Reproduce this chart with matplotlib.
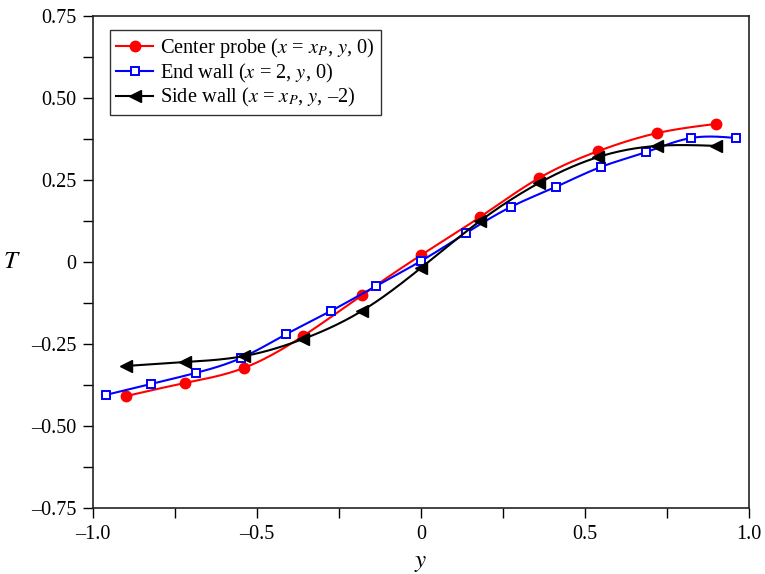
import numpy as np
import matplotlib
matplotlib.use("Agg")
import matplotlib.pyplot as plt
from matplotlib.ticker import FuncFormatter, MultipleLocator

plt.rcParams['font.family'] = ['Liberation Serif', 'DejaVu Serif']
plt.rcParams['mathtext.fontset'] = 'stix'

# Center probe (x = x_P, y, 0)
y_center = [-0.90, -0.72, -0.54, -0.36, -0.18, 0.0, 0.18, 0.36, 0.54, 0.72, 0.90]
T_center = [-0.409, -0.369, -0.323, -0.226, -0.101, 0.021, 0.137, 0.256, 0.338, 0.393, 0.421]

# End wall (x = 2, y, 0)
y_end = [-0.96, -0.823, -0.686, -0.549, -0.411, -0.274, -0.137, 0.0,
         0.137, 0.274, 0.411, 0.549, 0.686, 0.823, 0.96]
T_end = [-0.405, -0.372, -0.338, -0.293, -0.220, -0.149, -0.073, 0.003,
         0.088, 0.168, 0.229, 0.290, 0.335, 0.378, 0.378]

# Side wall (x = x_P, y, -2)
y_side = [-0.90, -0.72, -0.54, -0.36, -0.18, 0.0, 0.18, 0.36, 0.54, 0.72, 0.90]
T_side = [-0.317, -0.305, -0.287, -0.235, -0.149, -0.018, 0.125, 0.241, 0.320, 0.354, 0.354]


def spline(x, y, n=300):
    # natural cubic spline, just for smooth curves through the points
    x = np.asarray(x, float)
    y = np.asarray(y, float)
    m = len(x)
    h = np.diff(x)
    A = np.zeros((m, m))
    b = np.zeros(m)
    A[0, 0] = A[-1, -1] = 1
    for i in range(1, m - 1):
        A[i, i - 1] = h[i - 1]
        A[i, i] = 2 * (h[i - 1] + h[i])
        A[i, i + 1] = h[i]
        b[i] = 3 * ((y[i + 1] - y[i]) / h[i] - (y[i] - y[i - 1]) / h[i - 1])
    c = np.linalg.solve(A, b)
    xs = np.linspace(x[0], x[-1], n)
    idx = np.clip(np.searchsorted(x, xs) - 1, 0, m - 2)
    dx = xs - x[idx]
    bb = (y[idx + 1] - y[idx]) / h[idx] - h[idx] * (2 * c[idx] + c[idx + 1]) / 3
    d = (c[idx + 1] - c[idx]) / (3 * h[idx])
    return xs, y[idx] + bb * dx + c[idx] * dx**2 + d * dx**3


fig = plt.figure(figsize=(7.65, 5.74), dpi=100)
ax = fig.add_axes([93 / 765, 1 - 508 / 574, 656 / 765, 492 / 574])

series = [
    (y_center, T_center, 'red', dict(marker='o', ms=7.5, mfc='red', mec='red'),
     r'Center probe ($x$ = $x_P$, $y$, 0)'),
    (y_end, T_end, 'blue', dict(marker='s', ms=5.5, mfc='white', mec='blue', mew=1.4),
     r'End wall ($x$ = 2, $y$, 0)'),
    (y_side, T_side, 'black', dict(marker='<', ms=8.5, mfc='black', mec='black'),
     r'Side wall ($x$ = $x_P$, $y$, –2)'),
]
handles = []
for xv, yv, col, mk, lab in series:
    xs, ys = spline(xv, yv)
    ax.plot(xs, ys, color=col, lw=1.5)
    ax.plot(xv, yv, ls='none', **mk)
    h, = ax.plot([], [], color=col, lw=1.5, label=lab, **mk)
    handles.append(h)

ax.set_xlim(-1, 1)
ax.set_ylim(-0.75, 0.75)
ax.xaxis.set_major_locator(MultipleLocator(0.5))
ax.xaxis.set_minor_locator(MultipleLocator(0.25))
ax.yaxis.set_major_locator(MultipleLocator(0.25))
ax.yaxis.set_minor_locator(MultipleLocator(0.125))


def fmt_x(v, pos):
    if abs(v) < 1e-9:
        return '0'
    return f'{v:.1f}'.replace('-', '–')


def fmt_y(v, pos):
    if abs(v) < 1e-9:
        return '0'
    return f'{v:.2f}'.replace('-', '–')


ax.xaxis.set_major_formatter(FuncFormatter(fmt_x))
ax.yaxis.set_major_formatter(FuncFormatter(fmt_y))
ax.tick_params(which='both', direction='out', top=False, right=False, labelsize=14.5)
ax.tick_params(which='major', length=7, width=1, pad=5)
ax.tick_params(which='minor', length=7, width=1)
for s in ax.spines.values():
    s.set_linewidth(1.2)
    s.set_color('#222222')

ax.set_xlabel('$y$', fontsize=18, labelpad=6)
ax.set_ylabel('$T$', fontsize=18, rotation=0, labelpad=14, va='center')

leg = ax.legend(handles=handles, loc='upper left', bbox_to_anchor=(0.026, 0.972),
                fontsize=14.7, frameon=True, fancybox=False, edgecolor='black',
                handlelength=1.8, handletextpad=0.35, borderpad=0.3, labelspacing=0.08,
                borderaxespad=0)
leg.get_frame().set_linewidth(1.0)

fig.savefig('out.png', dpi=100)
